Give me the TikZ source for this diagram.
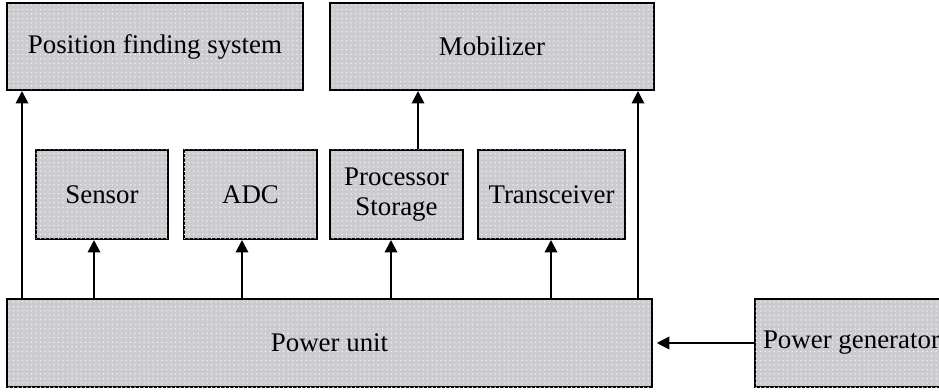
\documentclass[tikz,border=0pt]{standalone}
\usepackage{fontspec}
\setmainfont{Liberation Serif}
\usetikzlibrary{arrows.meta,patterns}
\pgfdeclarepatternformonly{fdots}{\pgfqpoint{-0.5pt}{-0.5pt}}{\pgfqpoint{1.5pt}{1.5pt}}{\pgfqpoint{1.8pt}{1.8pt}}{\pgfpathcircle{\pgfqpoint{0pt}{0pt}}{0.3pt}\pgfusepath{fill}}
\definecolor{boxgray}{RGB}{204,204,208}
\tikzset{
  blk/.style={draw=black, line width=0.8pt, fill=boxgray,
    postaction={pattern=fdots, pattern color=white!85!boxgray},
    inner sep=0pt, align=center,
    font=\fontsize{10.76}{12}\selectfont},
  arr/.style={line width=0.75pt, -{Triangle[length=5pt,width=5pt]}},
  ln/.style={line width=0.75pt}
}
\begin{document}
\begin{tikzpicture}[x=0.4pt,y=-0.4pt]
\useasboundingbox (0,0) rectangle (939,392);
\clip (0,0) rectangle (939,392);
\fill[white] (0,0) rectangle (939,392);
\node[blk, minimum width=118.4pt, minimum height=34.8pt] (pfs) at (155,46.5) {Position finding system};
\node[blk, minimum width=129.6pt, minimum height=34.8pt] (mob) at (492,46.5) {Mobilizer};
\node[blk, minimum width=52.8pt, minimum height=35.6pt] (sen) at (102,194.5) {Sensor};
\node[blk, minimum width=53.2pt, minimum height=35.6pt] (adc) at (250.5,194.5) {ADC};
\node[blk, minimum width=53.2pt, minimum height=35.6pt] (proc) at (396.5,194.5) {Processor\\Storage};
\node[blk, minimum width=58.8pt, minimum height=35.6pt] (tr) at (551.5,194.5) {Transceiver};
\node[blk, minimum width=258pt, minimum height=35.2pt] (pu) at (329.5,343) {Power unit};
\node[blk, minimum width=77.2pt, minimum height=35.2pt] (pg) at (851.5,343) {Power generator};
\coordinate (xl) at (22,0);
\coordinate (xs) at (94,0);
\coordinate (xa) at (242,0);
\coordinate (xp) at (391,0);
\coordinate (xt) at (551,0);
\coordinate (xm) at (418,0);
\coordinate (xr) at (638,0);
\draw[arr] (xl |- pu.north) -- (xl |- pfs.south);
\draw[arr] (xs |- pu.north) -- (xs |- sen.south);
\draw[arr] (xa |- pu.north) -- (xa |- adc.south);
\draw[arr] (xp |- pu.north) -- (xp |- proc.south);
\draw[arr] (xt |- pu.north) -- (xt |- tr.south);
\draw[arr] (xr |- pu.north) -- (xr |- mob.south);
\draw[arr] (xm |- proc.north) -- (xm |- mob.south);
\draw[arr, shorten >=1.5pt] (pg.west) -- (pu.east);
\end{tikzpicture}
\end{document}
